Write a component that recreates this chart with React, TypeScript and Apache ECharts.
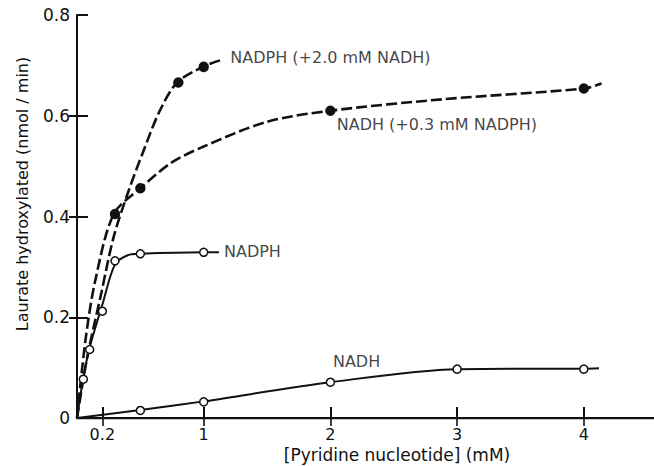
import { useEffect, useRef } from "react";
import * as echarts from "echarts";

// ---- axis ticks ----
const xTickValues = [0.2, 1, 2, 3, 4];
const topTickValues = [0.2, 1, 2, 3, 4];
const rightTickValues = [0.2, 0.4, 0.6];

// ---- measured points ----
const nadphX = [0.05, 0.1, 0.2, 0.3, 0.5, 1.0];
const nadphY = [0.077, 0.136, 0.212, 0.312, 0.326, 0.329];
const nadhX = [0.5, 1, 2, 3, 4];
const nadhY = [0.015, 0.032, 0.071, 0.097, 0.097];
const nadphPlusX = [0.8, 1.0];
const nadphPlusY = [0.666, 0.697];
const nadhPlusX = [0.3, 0.5, 2, 4];
const nadhPlusY = [0.405, 0.456, 0.61, 0.654];

// ---- hand-drawn curves ----
const nadphCurveX = [0, 0.05, 0.1, 0.2, 0.3, 0.4, 0.5, 1.0, 1.12];
const nadphCurveY = [0, 0.08, 0.14, 0.225, 0.305, 0.323, 0.326, 0.329, 0.329];
const nadhCurveX = [0, 0.5, 1, 2, 3, 4, 4.12];
const nadhCurveY = [0, 0.016, 0.033, 0.071, 0.097, 0.098, 0.099];
const nadphPlusCurveX = [0, 0.08, 0.185, 0.29, 0.41, 0.52, 0.65, 0.79, 1.0, 1.13];
const nadphPlusCurveY = [0, 0.12, 0.24, 0.36, 0.453, 0.527, 0.608, 0.666, 0.698, 0.71];
const nadhPlusCurveX = [0, 0.067, 0.145, 0.29, 0.5, 0.74, 1.0, 1.5, 2, 2.9, 4, 4.14];
const nadhPlusCurveY = [0, 0.155, 0.274, 0.405, 0.456, 0.506, 0.539, 0.588, 0.61, 0.633, 0.654, 0.664];

// ---- curve labels (text and data-space anchor) ----
const labelTexts = ["NADPH (+2.0 mM NADH)", "NADH (+0.3 mM NADPH)", "NADPH", "NADH"];
const labelAnchorX = [1.21, 2.05, 1.16, 2.02];
const labelAnchorY = [0.715, 0.582, 0.33, 0.113];

const xTitle = "[Pyridine nucleotide] (mM)";
const yTitle = "Laurate hydroxylated (nmol / min)";

const zip = (xs: number[], ys: number[]) => xs.map((x, i) => [x, ys[i]]);

const INK = "#111";
const FONT = "DejaVu Sans";

export default function App() {
  const ref = useRef<HTMLDivElement>(null);
  useEffect(() => {
    if (!ref.current) return;
    const chart = echarts.init(ref.current, undefined, { renderer: "svg" });
    const curve = (name: string, xs: number[], ys: number[], dashed: boolean) => ({
      name,
      type: "line",
      data: zip(xs, ys),
      showSymbol: false,
      smooth: 0.3,
      lineStyle: { color: INK, width: dashed ? 2.6 : 2, type: dashed ? [11, 4] : "solid" },
      z: 2,
      silent: true,
    });
    const points = (name: string, xs: number[], ys: number[], filled: boolean) => ({
      name,
      type: "scatter",
      data: zip(xs, ys),
      symbol: "circle",
      symbolSize: filled ? 9 : 8,
      itemStyle: {
        color: filled ? INK : "#fff",
        borderColor: INK,
        borderWidth: 1.5,
        opacity: 1,
      },
      z: 3,
      silent: true,
    });
    chart.setOption({
      animation: false,
      backgroundColor: "#fff",
      textStyle: { fontFamily: FONT, color: INK },
      grid: { left: 77, top: 15, right: 0, bottom: 48 },
      xAxis: [
        {
          type: "value",
          position: "bottom",
          min: 0,
          max: 4.554,
          axisLine: { show: true, lineStyle: { color: INK, width: 2 } },
          axisTick: { show: true, inside: true, length: 11, customValues: xTickValues, lineStyle: { color: INK, width: 2 } },
          axisLabel: {
            customValues: xTickValues,
            formatter: (v: number) => (v < 1 ? v.toFixed(1) : String(v)),
            color: INK,
            fontSize: 16,
            fontFamily: FONT,
            margin: 8,
          },
          splitLine: { show: false },
        },
        {
          type: "value",
          position: "top",
          min: 0,
          max: 4.554,
          axisLine: { show: true, lineStyle: { color: INK, width: 1.3 } },
          axisTick: { show: true, inside: true, length: 8, customValues: topTickValues, lineStyle: { color: INK, width: 1.6 } },
          axisLabel: { show: false },
          splitLine: { show: false },
        },
      ],
      yAxis: [
        {
          type: "value",
          position: "left",
          min: 0,
          max: 0.8,
          interval: 0.2,
          axisLine: { show: true, lineStyle: { color: INK, width: 2 } },
          axisTick: { show: true, inside: true, length: 11, lineStyle: { color: INK, width: 2 } },
          axisLabel: {
            formatter: (v: number) => (v === 0 ? "0" : v.toFixed(1)),
            color: INK,
            fontSize: 17,
            fontFamily: FONT,
            margin: 7,
          },
          splitLine: { show: false },
        },
        {
          type: "value",
          position: "right",
          min: 0,
          max: 0.8,
          interval: 0.2,
          axisLine: { show: false },
          axisTick: { show: true, inside: true, length: 8, customValues: rightTickValues, lineStyle: { color: INK, width: 2 } },
          axisLabel: { show: false },
          splitLine: { show: false },
        },
      ],
      series: [
        curve("NADPH (+2.0 mM NADH)", nadphPlusCurveX, nadphPlusCurveY, true),
        curve("NADH (+0.3 mM NADPH)", nadhPlusCurveX, nadhPlusCurveY, true),
        curve("NADPH", nadphCurveX, nadphCurveY, false),
        curve("NADH", nadhCurveX, nadhCurveY, false),
        points("NADPH (+2.0 mM NADH) pts", nadphPlusX, nadphPlusY, true),
        points("NADH (+0.3 mM NADPH) pts", nadhPlusX, nadhPlusY, true),
        points("NADPH pts", nadphX, nadphY, false),
        points("NADH pts", nadhX, nadhY, false),
        {
          name: "labels",
          type: "scatter",
          symbolSize: 0,
          silent: true,
          z: 4,
          data: labelTexts.map((t, i) => ({ value: [labelAnchorX[i], labelAnchorY[i]], name: t })),
          label: {
            show: true,
            position: "right",
            distance: 0,
            formatter: (p: any) => p.name,
            color: INK,
            fontSize: 16,
            fontFamily: FONT,
            align: "left",
            verticalAlign: "middle",
          },
        },
      ],
      graphic: [
        {
          type: "text",
          x: 397,
          y: 455,
          style: { text: xTitle, fill: INK, font: `17px "${FONT}"`, align: "center", verticalAlign: "middle" },
        },
        {
          type: "text",
          x: 22,
          y: 194,
          rotation: Math.PI / 2,
          style: { text: yTitle, fill: INK, font: `16px "${FONT}"`, align: "center", verticalAlign: "middle" },
        },
      ],
    });
    return () => chart.dispose();
  }, []);
  return <div ref={ref} style={{ position: "fixed", left: 0, top: 0, width: 654, height: 466 }} />;
}
